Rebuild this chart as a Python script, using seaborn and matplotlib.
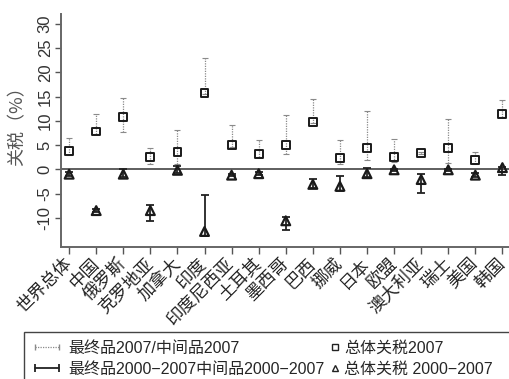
import numpy as np
import pandas as pd
import matplotlib
matplotlib.use("Agg")
import matplotlib.pyplot as plt
from matplotlib.lines import Line2D
from matplotlib.patches import Rectangle
import seaborn as sns

categories = ['世界总体', '中国', '俄罗斯', '克罗地亚', '加拿大', '印度', '印度尼西亚', '土耳其',
              '墨西哥', '巴西', '挪威', '日本', '欧盟', '澳大利亚', '瑞士', '美国', '韩国']

# overall tariff 2007 (squares) and final/intermediate 2007 range (dotted)
tariff_2007 = [3.75, 7.8, 10.7, 2.5, 3.55, 15.8, 5.0, 3.2, 5.0, 9.8, 2.3, 4.4, 2.5, 3.4, 4.4, 2.0, 11.4]
range_2007_high = [6.4, 11.4, 14.7, 4.4, 8.2, 22.9, 9.2, 6.1, 11.2, 14.5, 6.1, 12.0, 6.3, 3.6, 10.4, 3.5, 14.3]
range_2007_low = [2.9, 7.3, 7.6, 1.2, 1.2, 15.5, 4.6, 2.5, 3.2, 9.5, 1.2, 2.0, 1.5, 3.2, 1.4, 1.2, 10.7]

# change 2000-2007 (triangles) and final/intermediate change range (solid)
change_0007 = [-1.0, -8.5, -1.0, -8.5, -0.2, -12.8, -1.2, -0.9, -10.6, -3.1, -3.5, -0.9, -0.1, -2.1, -0.1, -1.2, 0.35]
change_high = [-0.6, -8.2, 0.1, -7.4, 0.7, -5.3, -0.9, -0.6, -9.8, -1.9, -1.4, 0.2, 0.1, -1.0, 0.1, -0.7, 0.5]
change_low = [-1.3, -8.8, -1.6, -10.7, -0.75, -13.7, -1.4, -1.1, -12.5, -3.8, -4.4, -1.6, -0.4, -4.8, -0.4, -1.5, -1.2]

sns.set_style('ticks')
plt.rcParams['font.family'] = ['Liberation Sans', 'Noto Sans CJK SC', 'DejaVu Sans']
plt.rcParams['axes.unicode_minus'] = False

df = pd.DataFrame({'pos': np.arange(len(categories)), 'country': categories,
                   'tariff': tariff_2007, 'hi07': range_2007_high, 'lo07': range_2007_low,
                   'change': change_0007, 'chi': change_high, 'clo': change_low})

fig = plt.figure(figsize=(5.1, 3.79), dpi=100)
ax = fig.add_axes([61 / 510, 1 - 247 / 379, 1 - 61 / 510, (247 - 14) / 379])

ax.axhline(0, color='#333333', lw=1.1, zorder=1)

# dotted range 2007
mid = (df['hi07'] + df['lo07']) / 2
half = (df['hi07'] - df['lo07']) / 2
eb = ax.errorbar(df['pos'], mid, yerr=half, fmt='none', ecolor='#8a8a8a', elinewidth=0.9,
                 capsize=2.2, capthick=0.8, zorder=2)
eb[2][0].set_linestyle((0, (1, 1)))

# solid range 2000-2007
cmid = (df['chi'] + df['clo']) / 2
chalf = (df['chi'] - df['clo']) / 2
ax.errorbar(df['pos'], cmid, yerr=chalf, fmt='none', ecolor='#222222', elinewidth=1.3,
            capsize=2.6, capthick=1.3, zorder=2)

sns.scatterplot(data=df, x='pos', y='tariff', marker='s', s=32, facecolor='none',
                edgecolor='#1a1a1a', linewidth=1.4, ax=ax, zorder=3)
sns.scatterplot(data=df, x='pos', y='change', marker='^', s=40, facecolor='none',
                edgecolor='#1a1a1a', linewidth=1.6, ax=ax, zorder=3)

ax.set_xlim(-0.3, 16.28)
ax.set_ylim(-16, 32)
ax.set_yticks([-10, -5, 0, 5, 10, 15, 20, 25, 30])
ax.set_xticks(df['pos'])
ax.set_xticklabels(categories, rotation=45, ha='right', va='center', rotation_mode='anchor',
                   fontsize=12.5, family=['Noto Sans CJK SC'], color='#222222')
ax.tick_params(axis='y', labelrotation=90, labelsize=12, length=4, width=1,
               color='#555555', labelcolor='#333333', pad=2)
ax.tick_params(axis='x', length=5, width=1, color='#555555', pad=5)
for lab in ax.get_yticklabels():
    lab.set_va('center')
ax.set_xlabel('')
ax.set_ylabel('关税（%）', fontsize=13, color='#555555', family=['Noto Sans CJK SC'])
ax.yaxis.set_label_coords(-0.078, 0.54)
sns.despine(ax=ax)
for sp in ['left', 'bottom']:
    ax.spines[sp].set_color('#666666')
    ax.spines[sp].set_linewidth(1.4)

# legend
line_handles = [
    Line2D([], [], color='#8a8a8a', lw=0.9, linestyle=(0, (1, 1)), marker='|', markersize=5),
    Line2D([], [], color='#222222', lw=1.3, marker='|', markersize=6, markeredgewidth=1.3),
]
mark_handles = [
    Line2D([], [], color='none', marker='s', markersize=4.5, markerfacecolor='none',
           markeredgecolor='#222222', markeredgewidth=1),
    Line2D([], [], color='none', marker='^', markersize=5, markerfacecolor='none',
           markeredgecolor='#222222', markeredgewidth=1),
]
fig.legend(line_handles, ['最终品2007/中间品2007', '最终品2000−2007中间品2000−2007'],
           loc='upper left', bbox_to_anchor=(30 / 510, 1 - 341 / 379), frameon=False,
           fontsize=11.5, handlelength=2.1, handletextpad=0.3, numpoints=2,
           labelspacing=0.35, borderpad=0, borderaxespad=0)
fig.legend(mark_handles, ['总体关税2007', '总体关税 2000−2007'],
           loc='upper left', bbox_to_anchor=(330 / 510, 1 - 341 / 379), frameon=False,
           fontsize=11.5, handlelength=0.6, handletextpad=0.3, numpoints=1,
           labelspacing=0.35, borderpad=0, borderaxespad=0)
fig.add_artist(Rectangle((24 / 510, -0.05), (530 - 24) / 510, (1 - 332 / 379) + 0.05,
                         transform=fig.transFigure, fill=False, edgecolor='#444444', lw=1))

fig.savefig('out.png', dpi=100)
